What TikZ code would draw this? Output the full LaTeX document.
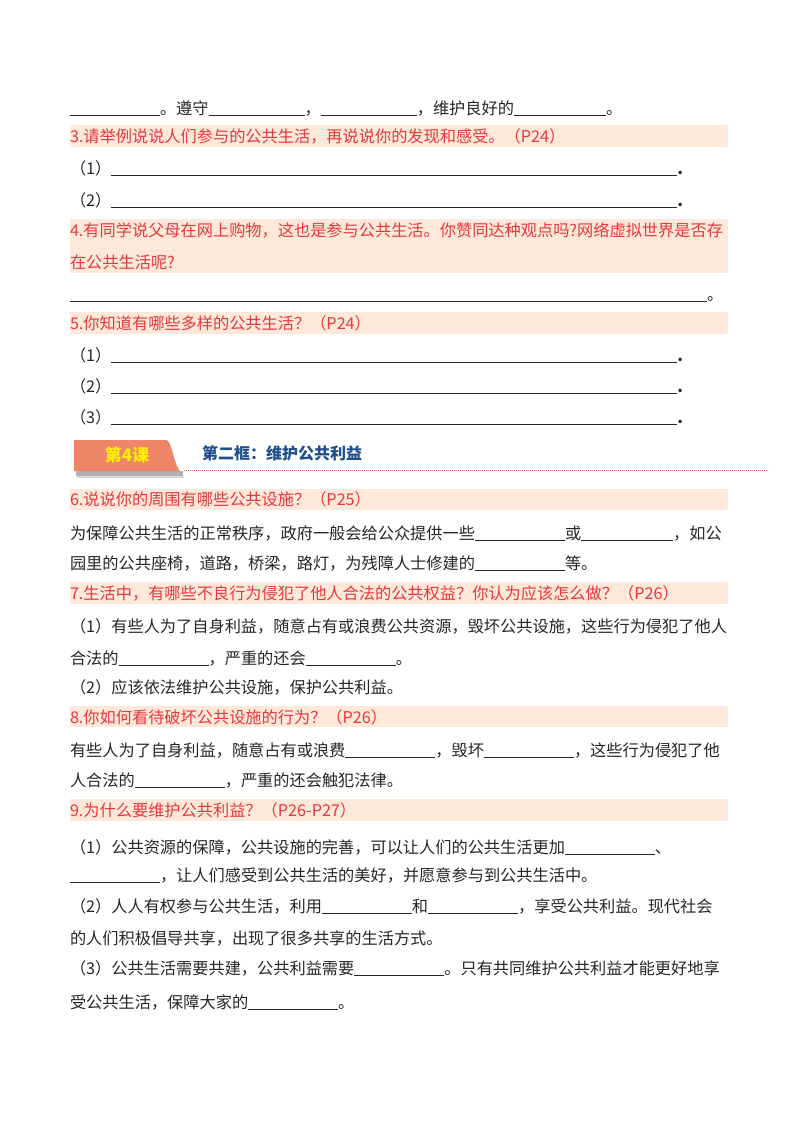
\documentclass[tikz,border=0pt]{standalone}
\usepackage{fontspec}
\newfontfamily\cjk{Noto Sans CJK SC}
\newcommand\blank[1]{\rule[-1.8pt]{#1pt}{1.3pt}}
\definecolor{bandc}{HTML}{FDE8DA}
\definecolor{qred}{HTML}{E8383D}
\definecolor{bodyc}{HTML}{262626}
\definecolor{tabc}{HTML}{EE8568}
\definecolor{tabtxt}{HTML}{FFF000}
\definecolor{navy}{HTML}{1F4E8C}
\definecolor{dotc}{HTML}{E57362}
\begin{document}
\begin{tikzpicture}[x=1pt,y=-1pt,
  txt/.style={anchor=base west, inner sep=0pt, outer sep=0pt,
    font=\cjk\fontsize{16.2}{16.2}\selectfont, text=bodyc},
  qtxt/.style={txt, text=qred},
  bandbox/.style={fill=bandc, draw=none}]
\useasboundingbox (0,0) rectangle (800,1132);
\fill[white] (0,0) rectangle (800,1132);

% bands
\fill[bandbox] (70,125) rectangle (728,147);
\fill[bandbox] (70,219) rectangle (728,273);
\fill[bandbox] (70,312) rectangle (728,334);
\fill[bandbox] (70,489) rectangle (728,510);
\fill[bandbox] (70,582) rectangle (728,604);
\fill[bandbox] (70,706) rectangle (728,727);
\fill[bandbox] (70,799) rectangle (728,821);

% line 1
\node[txt] (l1) at (70,114) {\blank{90}。遵守\blank{96}，\blank{96}，维护良好的\blank{92}。};

% Q3
\node[qtxt] (q3) at (70,142) {3.请举例说说人们参与的公共生活，再说说你的发现和感受。（P24）};
\node[txt] (q3a) at (70,174) {（1）\blank{566}\textbf{.}};
\node[txt] (q3b) at (70,206) {（2）\blank{566}\textbf{.}};

% Q4
\node[qtxt] (q4a) at (70,236) {4.有同学说父母在网上购物，这也是参与公共生活。你赞同达种观点吗?网络虚拟世界是否存};
\node[qtxt] (q4b) at (70,268) {在公共生活呢?};
\node[txt] (q4c) at (70,300) {\blank{637}。};

% Q5
\node[qtxt] (q5) at (70,329) {5.你知道有哪些多样的公共生活？（P24）};
\node[txt] (q5a) at (70,361) {（1）\blank{566}\textbf{.}};
\node[txt] (q5b) at (70,392) {（2）\blank{566}\textbf{.}};
\node[txt] (q5c) at (70,423) {（3）\blank{566}\textbf{.}};

% section tab
\fill[black, opacity=.3] (76,471) rectangle (183,476);
\fill[black, opacity=.15] (77,476) rectangle (184,478);
\fill[tabc] (74,440) -- (166,440) .. controls (172,440) and (174,466) .. (180,471) -- (74,471) -- cycle;
\node[anchor=center, inner sep=0pt, text=tabtxt,
  font=\cjk\bfseries\fontsize{17}{17}\selectfont] (tab) at (127,455) {第4课};
\node[anchor=base west, inner sep=0pt, text=navy,
  font=\cjk\bfseries\fontsize{16}{16}\selectfont] (sec) at (202,459) {第二框：维护公共利益};
\coordinate (dl) at (184,470);
\coordinate (dr) at (768,470);
\draw[dotc, line width=0.9pt, dash pattern=on 0.9pt off 1.1pt] (dl) -- (dr);

% Q6
\node[qtxt] (q6) at (70,505) {6.说说你的周围有哪些公共设施？（P25）};
\node[txt] (q6a) at (70,539) {为保障公共生活的正常秩序，政府一般会给公众提供一些\blank{90}或\blank{92}，如公};
\node[txt] (q6b) at (70,569) {园里的公共座椅，道路，桥梁，路灯，为残障人士修建的\blank{90}等。};

% Q7
\node[qtxt] (q7) at (70,599) {7.生活中，有哪些不良行为侵犯了他人合法的公共权益？你认为应该怎么做？（P26）};
\node[txt] (q7a) at (70,632) {（1）有些人为了自身利益，随意占有或浪费公共资源，毁坏公共设施，这些行为侵犯了他人};
\node[txt] (q7b) at (70,664) {合法的\blank{90}，严重的还会\blank{90}。};
\node[txt] (q7c) at (70,693) {（2）应该依法维护公共设施，保护公共利益。};

% Q8
\node[qtxt] (q8) at (70,723) {8.你如何看待破坏公共设施的行为？（P26）};
\node[txt] (q8a) at (70,756) {有些人为了自身利益，随意占有或浪费\blank{90}，毁坏\blank{90}，这些行为侵犯了他};
\node[txt] (q8b) at (70,786) {人合法的\blank{90}，严重的还会触犯法律。};

% Q9
\node[qtxt] (q9) at (70,816) {9.为什么要维护公共利益？（P26-P27）};
\node[txt] (q9a) at (70,853) {（1）公共资源的保障，公共设施的完善，可以让人们的公共生活更加\blank{90}、};
\node[txt] (q9b) at (70,881) {\blank{90}，让人们感受到公共生活的美好，并愿意参与到公共生活中。};
\node[txt] (q9c) at (70,912) {（2）人人有权参与公共生活，利用\blank{90}和\blank{90}，享受公共利益。现代社会};
\node[txt] (q9d) at (70,944) {的人们积极倡导共享，出现了很多共享的生活方式。};
\node[txt] (q9e) at (70,974) {（3）公共生活需要共建，公共利益需要\blank{90}。只有共同维护公共利益才能更好地享};
\node[txt] (q9f) at (70,1008) {受公共生活，保障大家的\blank{90}。};
\end{tikzpicture}
\end{document}
